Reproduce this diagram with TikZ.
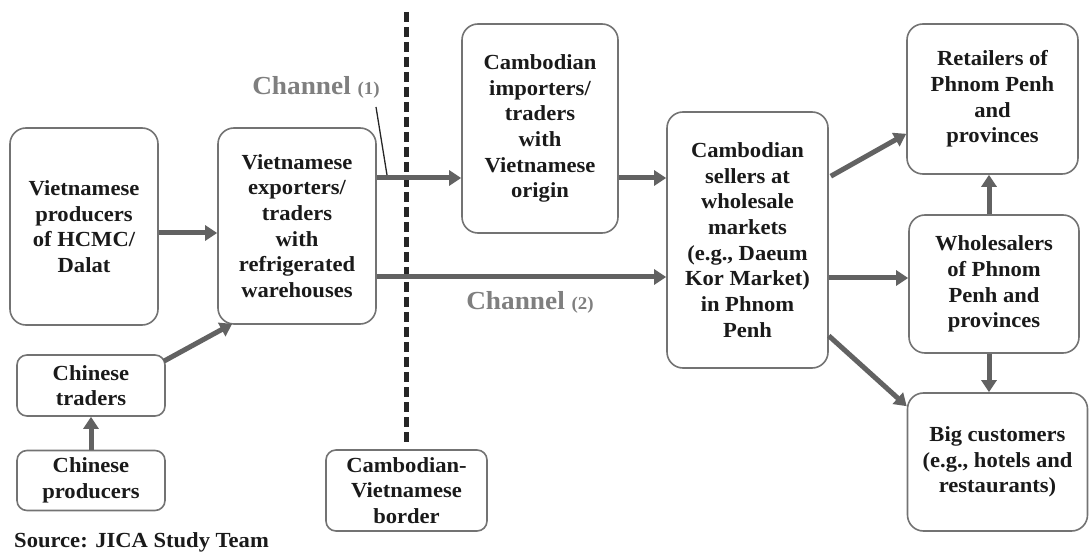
\documentclass[tikz,border=0pt]{standalone}
\usepackage{fontspec}
\setmainfont{Liberation Serif}[FakeStretch=1.05]
\usetikzlibrary{arrows.meta}
\definecolor{boxline}{HTML}{737373}
\definecolor{arrowgray}{HTML}{626262}
\definecolor{inkdark}{HTML}{1A1A1A}
\definecolor{labelgray}{HTML}{7F7F7F}
\begin{document}
\begin{tikzpicture}[x=1pt,y=-1pt,
  box/.style={draw=boxline, line width=1.6pt, rounded corners=16pt, inner sep=0pt,
    align=center, text=inkdark, font=\fontsize{21.5}{25.7}\selectfont\bfseries},
  smallbox/.style={box, rounded corners=10pt},
  arr/.style={draw=arrowgray, line width=5pt,
    -{Triangle[length=12pt,width=15pt]}},
  chanlabel/.style={text=labelgray, font=\fontsize{26}{28}\selectfont\bfseries},
  border line/.style={draw=black!85, line width=4.3pt, dash pattern=on 10pt off 5pt}
]
\useasboundingbox (0,0) rectangle (1090,553);

% boxes on the Vietnamese side
\node[box, minimum width=148pt, minimum height=197pt] (vp) at (84,226.5)
  {Vietnamese\\producers\\of HCMC/\\Dalat};
\node[box, minimum width=158pt, minimum height=196pt] (ve) at (297,226)
  {Vietnamese\\exporters/\\traders\\with\\refrigerated\\warehouses};
\node[smallbox, minimum width=148pt, minimum height=61pt] (ct) at (91,385.5)
  {Chinese\\traders};
\node[smallbox, minimum width=148pt, minimum height=60pt] (cp) at (91,480.5)
  {Chinese\\producers};

% border marker
\node[smallbox, minimum width=161pt, minimum height=81pt] (bd) at (406.5,490.5)
  {Cambodian-\\Vietnamese\\border};
\coordinate (bdtop) at (406.5,12);

% boxes on the Cambodian side
\node[box, minimum width=156pt, minimum height=209pt] (imp) at (540,128.5)
  {Cambodian\\importers/\\traders\\with\\Vietnamese\\origin};
\node[box, minimum width=161pt, minimum height=256pt] (sel) at (747.5,240)
  {Cambodian\\sellers at\\wholesale\\markets\\(e.g., Daeum\\Kor Market)\\in Phnom\\Penh};
\node[box, minimum width=171pt, minimum height=150pt] (ret) at (992.5,99)
  {Retailers of\\Phnom Penh\\and\\provinces};
\node[box, minimum width=170pt, minimum height=138pt] (whs) at (994,284)
  {Wholesalers\\of Phnom\\Penh and\\provinces};
\node[box, minimum width=180pt, minimum height=138pt] (big) at (997.5,462)
  {Big customers\\(e.g., hotels and\\restaurants)};

% border line
\draw[border line] (bdtop) -- ([yshift=5pt]bd.north);

% flows
\draw[arr] ([yshift=-6.5pt]vp.east) -- ([yshift=-6.5pt]vp.east -| ve.west);
\draw[arr] (cp.north) -- (ct.south);
\draw[arr] ([xshift=-2pt,yshift=-7pt]ct.north east) -- ([xshift=15pt,yshift=1pt]ve.south west);
\draw[arr] ([yshift=48pt]ve.east) -- ([yshift=48pt]ve.east -| imp.west);
\draw[arr] ([yshift=-51pt]ve.east) -- ([yshift=-51pt]ve.east -| sel.west);
\draw[arr] ([yshift=-49.5pt]imp.east) -- ([yshift=-49.5pt]imp.east -| sel.west);
\draw[arr] ([xshift=2pt,yshift=-65pt]sel.north east) -- ([yshift=41pt]ret.south west);
\draw[arr] ([yshift=-38pt]sel.east) -- ([yshift=-38pt]sel.east -| whs.west);
\draw[arr] ([yshift=33pt]sel.south east) -- ([yshift=-14pt]big.north west);
\draw[arr] ([xshift=-5pt]whs.north) -- ([xshift=-5pt]whs.north |- ret.south);
\draw[arr] ([xshift=-5pt]whs.south) -- ([xshift=-5pt]whs.south |- big.north);

% channel labels
\node[chanlabel] (ch1) at (316,87) {Channel {\fontsize{18}{20}\selectfont(1)}};
\node[chanlabel] (ch2) at (530,302) {Channel {\fontsize{18}{20}\selectfont(2)}};
\coordinate (lead1) at (376,107);
\coordinate (lead2) at (387,175);
\draw[black!85, line width=1.3pt] (lead1) -- (lead2);

% source
\node[anchor=west, inner sep=0pt, text=inkdark,
  font=\fontsize{21.5}{25}\selectfont\bfseries] (src) at (14,542) {Source: JICA Study Team};
\end{tikzpicture}
\end{document}
